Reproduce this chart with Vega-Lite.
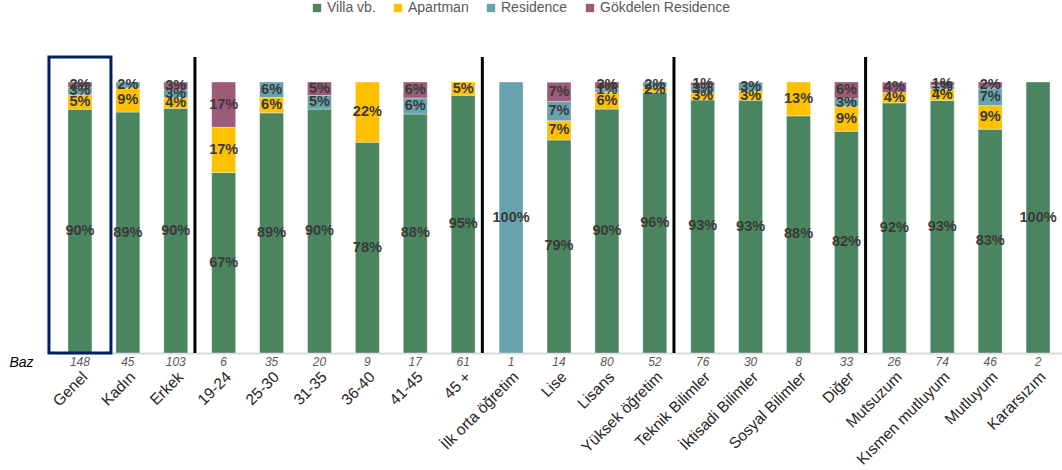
{
  "$schema": "https://vega.github.io/schema/vega-lite/v6.json",
  "autosize": {"type": "none"},
  "width": 1006,
  "height": 271,
  "padding": {"left": 56, "top": 82, "right": 0, "bottom": 117},
  "background": "white",
  "config": {"view": {"stroke": null}, "font": "Liberation Sans"},
  "datasets": {
    "seg": [
      {"c": "Genel", "s": "Villa vb.", "v": 0.899}, {"c": "Genel", "s": "Apartman", "v": 0.054}, {"c": "Genel", "s": "Residence", "v": 0.027}, {"c": "Genel", "s": "Gökdelen Residence", "v": 0.020},
      {"c": "Kadın", "s": "Villa vb.", "v": 0.889}, {"c": "Kadın", "s": "Apartman", "v": 0.089}, {"c": "Kadın", "s": "Residence", "v": 0.022},
      {"c": "Erkek", "s": "Villa vb.", "v": 0.903}, {"c": "Erkek", "s": "Apartman", "v": 0.039}, {"c": "Erkek", "s": "Residence", "v": 0.029}, {"c": "Erkek", "s": "Gökdelen Residence", "v": 0.029},
      {"c": "19-24", "s": "Villa vb.", "v": 0.666}, {"c": "19-24", "s": "Apartman", "v": 0.167}, {"c": "19-24", "s": "Gökdelen Residence", "v": 0.167},
      {"c": "25-30", "s": "Villa vb.", "v": 0.886}, {"c": "25-30", "s": "Apartman", "v": 0.057}, {"c": "25-30", "s": "Residence", "v": 0.057},
      {"c": "31-35", "s": "Villa vb.", "v": 0.90}, {"c": "31-35", "s": "Residence", "v": 0.05}, {"c": "31-35", "s": "Gökdelen Residence", "v": 0.05},
      {"c": "36-40", "s": "Villa vb.", "v": 0.778}, {"c": "36-40", "s": "Apartman", "v": 0.222},
      {"c": "41-45", "s": "Villa vb.", "v": 0.882}, {"c": "41-45", "s": "Residence", "v": 0.059}, {"c": "41-45", "s": "Gökdelen Residence", "v": 0.059},
      {"c": "45 +", "s": "Villa vb.", "v": 0.951}, {"c": "45 +", "s": "Apartman", "v": 0.049},
      {"c": "İlk orta öğretim", "s": "Residence", "v": 1.0},
      {"c": "Lise", "s": "Villa vb.", "v": 0.786}, {"c": "Lise", "s": "Apartman", "v": 0.071}, {"c": "Lise", "s": "Residence", "v": 0.071}, {"c": "Lise", "s": "Gökdelen Residence", "v": 0.071},
      {"c": "Lisans", "s": "Villa vb.", "v": 0.90}, {"c": "Lisans", "s": "Apartman", "v": 0.0625}, {"c": "Lisans", "s": "Residence", "v": 0.0125}, {"c": "Lisans", "s": "Gökdelen Residence", "v": 0.025},
      {"c": "Yüksek öğretim", "s": "Villa vb.", "v": 0.962}, {"c": "Yüksek öğretim", "s": "Apartman", "v": 0.019}, {"c": "Yüksek öğretim", "s": "Residence", "v": 0.019},
      {"c": "Teknik Bilimler", "s": "Villa vb.", "v": 0.934}, {"c": "Teknik Bilimler", "s": "Apartman", "v": 0.026}, {"c": "Teknik Bilimler", "s": "Residence", "v": 0.026}, {"c": "Teknik Bilimler", "s": "Gökdelen Residence", "v": 0.013},
      {"c": "İktisadi Bilimler", "s": "Villa vb.", "v": 0.933}, {"c": "İktisadi Bilimler", "s": "Apartman", "v": 0.033}, {"c": "İktisadi Bilimler", "s": "Residence", "v": 0.033},
      {"c": "Sosyal Bilimler", "s": "Villa vb.", "v": 0.875}, {"c": "Sosyal Bilimler", "s": "Apartman", "v": 0.125},
      {"c": "Diğer", "s": "Villa vb.", "v": 0.818}, {"c": "Diğer", "s": "Apartman", "v": 0.091}, {"c": "Diğer", "s": "Residence", "v": 0.030}, {"c": "Diğer", "s": "Gökdelen Residence", "v": 0.061},
      {"c": "Mutsuzum", "s": "Villa vb.", "v": 0.923}, {"c": "Mutsuzum", "s": "Apartman", "v": 0.038}, {"c": "Mutsuzum", "s": "Gökdelen Residence", "v": 0.038},
      {"c": "Kısmen mutluyum", "s": "Villa vb.", "v": 0.932}, {"c": "Kısmen mutluyum", "s": "Apartman", "v": 0.041}, {"c": "Kısmen mutluyum", "s": "Residence", "v": 0.014}, {"c": "Kısmen mutluyum", "s": "Gökdelen Residence", "v": 0.014},
      {"c": "Mutluyum", "s": "Villa vb.", "v": 0.826}, {"c": "Mutluyum", "s": "Apartman", "v": 0.087}, {"c": "Mutluyum", "s": "Residence", "v": 0.065}, {"c": "Mutluyum", "s": "Gökdelen Residence", "v": 0.022},
      {"c": "Kararsızım", "s": "Villa vb.", "v": 1.0}
    ],
    "baz": [
      {"c": "Genel", "n": 148}, {"c": "Kadın", "n": 45}, {"c": "Erkek", "n": 103},
      {"c": "19-24", "n": 6}, {"c": "25-30", "n": 35}, {"c": "31-35", "n": 20}, {"c": "36-40", "n": 9}, {"c": "41-45", "n": 17}, {"c": "45 +", "n": 61},
      {"c": "İlk orta öğretim", "n": 1}, {"c": "Lise", "n": 14}, {"c": "Lisans", "n": 80}, {"c": "Yüksek öğretim", "n": 52},
      {"c": "Teknik Bilimler", "n": 76}, {"c": "İktisadi Bilimler", "n": 30}, {"c": "Sosyal Bilimler", "n": 8}, {"c": "Diğer", "n": 33},
      {"c": "Mutsuzum", "n": 26}, {"c": "Kısmen mutluyum", "n": 74}, {"c": "Mutluyum", "n": 46}, {"c": "Kararsızım", "n": 2}
    ],
    "sep": [{"c": "Erkek"}, {"c": "45 +"}, {"c": "Yüksek öğretim"}, {"c": "Diğer"}],
    "box": [{"c": "Genel"}]
  },
  "layer": [
    {
      "data": {"name": "seg"},
      "transform": [{"calculate": "indexof(['Villa vb.','Apartman','Residence','Gökdelen Residence'], datum.s)", "as": "o"}],
      "mark": {"type": "bar", "stroke": "white", "strokeOpacity": 0.35, "strokeWidth": 1},
      "encoding": {
        "x": {
          "field": "c", "type": "nominal", "sort": null,
          "scale": {
            "domain": ["Genel", "Kadın", "Erkek", "19-24", "25-30", "31-35", "36-40", "41-45", "45 +", "İlk orta öğretim", "Lise", "Lisans", "Yüksek öğretim", "Teknik Bilimler", "İktisadi Bilimler", "Sosyal Bilimler", "Diğer", "Mutsuzum", "Kısmen mutluyum", "Mutluyum", "Kararsızım"],
            "paddingInner": 0.5, "paddingOuter": 0.25
          },
          "axis": {
            "title": null, "labelAngle": -45, "labelAlign": "right", "labelBaseline": "top",
            "labelPadding": 16, "labelFontSize": 15.5, "labelColor": "#262626", "labelFont": "Liberation Sans",
            "ticks": false, "domainColor": "#D9D9D9", "domainWidth": 2, "labelOverlap": false
          }
        },
        "y": {
          "field": "v", "type": "quantitative", "stack": "zero",
          "scale": {"domain": [0, 1], "nice": false},
          "axis": {
            "title": "Baz", "titleAngle": 0, "titleFontStyle": "italic", "titleFontWeight": "normal", "titleFontSize": 14,
            "titleColor": "#000000", "titleX": -35, "titleY": 280, "titleAlign": "center", "titleBaseline": "middle",
            "labels": false, "ticks": false, "domain": false, "grid": false
          }
        },
        "color": {
          "field": "s", "type": "nominal",
          "scale": {"domain": ["Villa vb.", "Apartman", "Residence", "Gökdelen Residence"], "range": ["#4A855F", "#FFC000", "#67A3AD", "#9C5B76"]},
          "legend": {
            "title": null, "orient": "none", "direction": "horizontal", "legendX": 254, "legendY": -81,
            "symbolType": "square", "symbolSize": 70, "symbolStrokeWidth": 0, "labelFontSize": 14,
            "labelColor": "#595959", "columnPadding": 15, "labelOffset": 3
          }
        },
        "order": {"field": "o", "type": "quantitative"}
      }
    },
    {
      "data": {"name": "seg"},
      "transform": [
        {"calculate": "indexof(['Villa vb.','Apartman','Residence','Gökdelen Residence'], datum.s)", "as": "o"},
        {"stack": "v", "groupby": ["c"], "sort": [{"field": "o", "order": "ascending"}], "as": ["y0", "y1"]},
        {"calculate": "(datum.y0 + datum.y1) / 2", "as": "mid"}
      ],
      "mark": {"type": "text", "fontSize": 14.5, "fontWeight": "bold", "color": "#3A3A3A", "baseline": "middle", "align": "center"},
      "encoding": {
        "x": {"field": "c", "type": "nominal", "sort": null},
        "y": {"field": "mid", "type": "quantitative"},
        "text": {"field": "v", "type": "quantitative", "format": ".0%"}
      }
    },
    {
      "data": {"name": "baz"},
      "mark": {"type": "text", "fontSize": 12, "fontStyle": "italic", "color": "#595959", "baseline": "middle", "align": "center"},
      "encoding": {
        "x": {"field": "c", "type": "nominal", "sort": null},
        "y": {"datum": -0.033},
        "text": {"field": "n", "type": "quantitative"}
      }
    },
    {
      "data": {"name": "box"},
      "mark": {"type": "bar", "width": 62, "fill": null, "fillOpacity": 0, "stroke": "#002060", "strokeWidth": 3, "clip": false},
      "encoding": {
        "x": {"field": "c", "type": "nominal", "sort": null},
        "y": {"datum": 0},
        "y2": {"datum": 1.092}
      }
    },
    {
      "data": {"name": "sep"},
      "mark": {"type": "rule", "color": "#000000", "strokeWidth": 3, "clip": false},
      "encoding": {
        "x": {"field": "c", "type": "nominal", "sort": null, "bandPosition": 1.3},
        "y": {"datum": 0},
        "y2": {"datum": 1.092}
      }
    }
  ]
}
